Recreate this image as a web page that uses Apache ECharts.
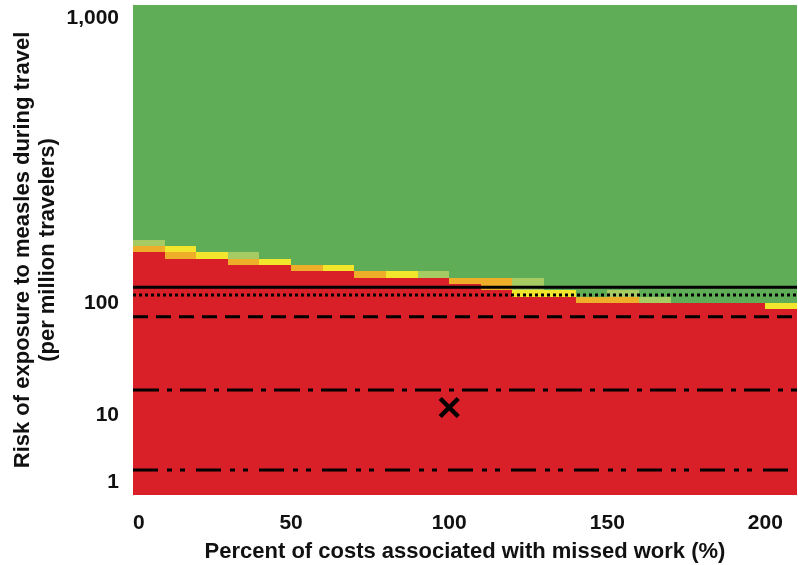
<!DOCTYPE html>
<html>
<head>
<meta charset="utf-8">
<script src="https://cdn.jsdelivr.net/npm/echarts@6/dist/echarts.min.js"></script>
<style>
  html, body { margin: 0; padding: 0; background: #fff; }
  #chart { width: 798px; height: 565px; }
</style>
</head>
<body>
<div id="chart"></div>
<script>
// Percent of costs associated with missed work: each column starts here and is 10 wide
const percentStarts = [0, 10, 20, 30, 40, 50, 60, 70, 80, 90, 100, 110, 120, 130, 140, 150, 160, 170, 180, 190, 200];
const columnWidth = 10;

// Risk (per million travelers) up to which the red zone reaches, per column
const redTop = [260, 240, 240, 220, 220, 200, 200, 180, 180, 180, 160, 140, 120, 120, 100, 100, 100, 100, 100, 100, 95];

// Transition bands above the red zone: [upper risk, zone], per column
const transitionBands = [
  [[280, 'orange'], [300, 'lime']],
  [[260, 'orange'], [280, 'yellow']],
  [[260, 'yellow']],
  [[240, 'orange'], [260, 'lime']],
  [[240, 'yellow']],
  [[220, 'orange']],
  [[220, 'yellow']],
  [[200, 'orange']],
  [[200, 'yellow']],
  [[200, 'lime']],
  [[180, 'orange']],
  [[180, 'orange']],
  [[140, 'yellow'], [180, 'lime']],
  [[140, 'yellow']],
  [[120, 'orange']],
  [[120, 'orange'], [140, 'lime']],
  [[120, 'lime']],
  [],
  [],
  [],
  [[100, 'yellow']]
];

// Reference risk levels drawn across the chart
const thresholdRisks = [150, 125, 89, 30, 2.6];
// Base-case point
const basePercent = [100];
const baseRisk = [16];

// Vertical scale: tick risks and where they sit on the axis
const yTickRisks = [1, 10, 100, 1000];
const yTickLabels = ['1', '10', '100', '1,000'];
const yTickPos = [13, 80, 192, 477];
const yMin = 0, yMax = 490;

const xTicks = [0, 50, 100, 150, 200];
const xMin = 0, xMax = 210;

// piecewise-linear risk -> axis value
function toAxis(r) {
  let i = 0;
  while (i < yTickRisks.length - 2 && r > yTickRisks[i + 1]) i++;
  const r0 = yTickRisks[i], r1 = yTickRisks[i + 1];
  const p0 = yTickPos[i], p1 = yTickPos[i + 1];
  return p0 + (r - r0) * (p1 - p0) / (r1 - r0);
}

const zoneColors = {
  red: '#d91f27',
  orange: '#eeae2a',
  yellow: '#f1e62c',
  lime: '#a6cb62',
  green: '#5fad57'
};
const zoneNames = ['red', 'orange', 'yellow', 'lime', 'green'];

// build heat cells: [x0, x1, y0, y1, zoneIndex]
const cells = [];
percentStarts.forEach((x0, c) => {
  const x1 = x0 + columnWidth;
  let lower = toAxis(redTop[c]);
  cells.push([x0, x1, yMin, lower, 0]);
  transitionBands[c].forEach(([top, zone]) => {
    const upper = toAxis(top);
    cells.push([x0, x1, lower, upper, zoneNames.indexOf(zone)]);
    lower = upper;
  });
  cells.push([x0, x1, lower, yMax, 4]);
});

const lineStyles = [
  { type: 'solid' },
  { type: 'dotted' },
  { type: [15, 8] },
  { type: [26, 8, 5, 8] },
  { type: [25, 9, 5, 8, 5, 11] }
];

const textStyle = { fontFamily: 'Liberation Sans, Arial, sans-serif', fontWeight: 'bold', color: '#111' };

const chart = echarts.init(document.getElementById('chart'), null, { renderer: 'canvas' });

const series = [
  {
    type: 'custom',
    name: 'zones',
    data: cells,
    silent: true,
    encode: { x: [0, 1], y: [2, 3] },
    renderItem: function (params, api) {
      const p0 = api.coord([api.value(0), api.value(3)]);
      const p1 = api.coord([api.value(1), api.value(2)]);
      // snap to whole pixels so neighbouring cells meet without seams
      const x = Math.round(p0[0]), y = Math.round(p0[1]);
      const w = Math.round(p1[0]) - x, h = Math.round(p1[1]) - y;
      return {
        type: 'rect',
        shape: { x: x, y: y, width: w, height: h },
        style: { fill: zoneColors[zoneNames[api.value(4)]], stroke: null }
      };
    },
    z: 1
  }
];

thresholdRisks.forEach((r, i) => {
  const u = toAxis(r);
  series.push({
    type: 'line',
    data: [[xMin, u], [xMax, u]],
    symbol: 'none',
    silent: true,
    lineStyle: Object.assign({ color: '#000', width: 3 }, lineStyles[i]),
    z: 3
  });
});

series.push({
  type: 'custom',
  name: 'base case',
  data: basePercent.map((x, i) => [x, toAxis(baseRisk[i])]),
  renderItem: function (params, api) {
    const p = api.coord([api.value(0), api.value(1)]);
    const h = 9;
    const style = { stroke: '#000', lineWidth: 4.5, lineCap: 'butt' };
    return {
      type: 'group',
      children: [
        { type: 'line', shape: { x1: p[0] - h, y1: p[1] - h, x2: p[0] + h, y2: p[1] + h }, style: style },
        { type: 'line', shape: { x1: p[0] - h, y1: p[1] + h, x2: p[0] + h, y2: p[1] - h }, style: style }
      ]
    };
  },
  z: 4
});

chart.setOption({
  animation: false,
  backgroundColor: '#fff',
  grid: { left: 133, right: 1, top: 5, bottom: 70, containLabel: false, outerBoundsMode: 'none' },
  xAxis: {
    type: 'value',
    min: xMin,
    max: xMax,
    axisLine: { show: false },
    axisTick: { show: false },
    splitLine: { show: false },
    axisLabel: Object.assign({ customValues: xTicks, fontSize: 21, margin: 18, alignMinLabel: 'left' }, textStyle),
    name: 'Percent of costs associated with missed work (%)',
    nameLocation: 'middle',
    nameGap: 46,
    nameMoveOverlap: false,
    nameTextStyle: Object.assign({ fontSize: 22 }, textStyle)
  },
  yAxis: {
    type: 'value',
    min: yMin,
    max: yMax,
    axisLine: { show: true, lineStyle: { color: '#c8c8c8', width: 1 } },
    axisTick: { show: false },
    splitLine: { show: false },
    axisLabel: Object.assign({
      customValues: yTickPos,
      fontSize: 21,
      margin: 14,
      formatter: function (v) {
        let best = 0;
        yTickPos.forEach((p, i) => { if (Math.abs(p - v) < Math.abs(yTickPos[best] - v)) best = i; });
        return yTickLabels[best];
      }
    }, textStyle),
    name: 'Risk of exposure to measles during travel\n(per million travelers)',
    nameLocation: 'middle',
    nameGap: 73,
    nameMoveOverlap: false,
    nameTextStyle: Object.assign({ fontSize: 22, lineHeight: 25 }, textStyle)
  },
  series: series
});
</script>
</body>
</html>
